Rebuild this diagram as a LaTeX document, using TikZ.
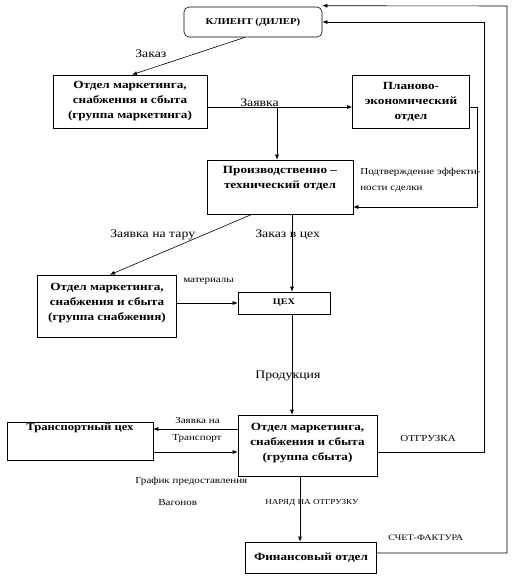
\documentclass[tikz,border=0pt]{standalone}
\usepackage{fontspec}
\setmainfont{Liberation Serif}[FakeStretch=1.2]
\usetikzlibrary{arrows.meta}
\begin{document}
\begin{tikzpicture}
  [x=1pt,y=-1pt,line width=.6pt,
   >={Latex[length=5pt,width=4pt]},
   box/.style={draw,align=center,inner sep=1pt,font=\fontsize{11}{15}\selectfont\bfseries},
   lbl/.style={anchor=west,inner sep=0pt,font=\fontsize{11.5}{13}\selectfont},
   sml/.style={anchor=west,inner sep=0pt,font=\fontsize{9.2}{10}\selectfont}]
  \useasboundingbox (0,0) rectangle (518,577);

  \node[box,rounded corners=5pt,minimum width=138pt,minimum height=30pt,font=\fontsize{9}{10}\selectfont\bfseries] (client) at (253,22) {КЛИЕНТ (ДИЛЕР)};
  \node[box,minimum width=154pt,minimum height=53pt] (mkt)    at (130,101.5) {Отдел маркетинга,\\снабжения и сбыта\\(группа маркетинга)};
  \node[box,minimum width=117pt,minimum height=53pt] (plan)   at (411,101.5) {Планово-\\экономический\\отдел};
  \node[box,minimum width=146pt,minimum height=54pt] (prod)   at (280,187)   {Производственно –\\технический отдел\\[5pt]};
  \node[box,minimum width=139pt,minimum height=62pt] (supply) at (107,306)   {Отдел маркетинга,\\снабжения и сбыта\\(группа снабжения)\\[-6pt]};
  \node[box,minimum width=92pt,minimum height=22pt,font=\fontsize{8.5}{10}\selectfont\bfseries] (shop) at (284,303) {ЦЕХ};
  \node[box,minimum width=139pt,minimum height=61pt] (sales)  at (307.5,445.5) {Отдел маркетинга,\\снабжения и сбыта\\(группа сбыта)\\[-8pt]};
  \node[box,minimum width=146pt,minimum height=37pt,font=\fontsize{10.5}{15}\selectfont\bfseries] (trans) at (80,441.5) {Транспортный цех\\[14pt]};
  \node[box,minimum width=131pt,minimum height=31pt] (fin)    at (311,557.5) {Финансовый отдел};

  \coordinate (split) at (277,107);
  \coordinate (pr1) at (477,107);
  \coordinate (pr2) at (477,207);
  \coordinate (ot1) at (484,452);
  \coordinate (ot2) at (484,22);
  \coordinate (sf1) at (507,553);
  \coordinate (sf2) at (507,6);

  \node[lbl] (lzakaz)  at (135,54)  {Заказ};
  \node[lbl] (lzayav)  at (240,103) {Заявка};
  \node[sml] (lpodtv)  at (360,172) {Подтверждение эффекти-};
  \node[sml] (lnosti)  at (360,189) {ности сделки};
  \node[lbl] (ltara)   at (110,235) {Заявка на тару};
  \node[lbl] (lvceh)   at (255,235) {Заказ в цех};
  \node[sml] (lmater)  at (183,281) {материалы};
  \node[lbl] (lprod)   at (255,376) {Продукция};
  \node[sml] (ltrz1)   at (175,420) {Заявка на};
  \node[sml] (ltrz2)   at (172,438) {Транспорт};
  \node[sml] (lotgr)   at (400,438) {ОТГРУЗКА};
  \node[sml] (lgraf)   at (135,481) {График предоставления};
  \node[sml] (lvag)    at (158,503) {Вагонов};
  \node[sml,font=\fontsize{7.6}{9}\selectfont] (lnaryad) at (265,503) {НАРЯД НА ОТГРУЗКУ};
  \node[sml,font=\fontsize{8.4}{9}\selectfont] (lschet)  at (388,538) {СЧЕТ-ФАКТУРА};

  \draw[->] ([xshift=-8pt]client.south) -- ([xshift=2pt]mkt.north);
  \draw[->] ([yshift=-5.5pt]mkt.east) -- ([yshift=-5.5pt]plan.west);
  \draw[->] (split) -- (split |- prod.north);
  \draw[->] ([yshift=-5.5pt]plan.east) -- (pr1) -- (pr2) -- (pr2 -| prod.east);
  \draw[->] ([xshift=-28pt]prod.south) -- ([xshift=3pt]supply.north);
  \draw[->] ([xshift=12pt]prod.south) -- ([xshift=8pt]shop.north);
  \draw[->] ([yshift=3pt]supply.east) -- (shop.west);
  \draw[->] ([xshift=8pt]shop.south) -- ([xshift=-15.5pt]sales.north);
  \draw[->] ([yshift=16.5pt]sales.west) -- ([yshift=12.5pt]trans.east);
  \draw[->] ([yshift=-10.5pt]trans.east) -- ([yshift=-6.5pt]sales.west);
  \draw[->] ([yshift=-6.5pt]sales.east) -- (ot1) -- (ot2) -- (client.east);
  \draw[->] ([xshift=-7.5pt]sales.south) -- ([xshift=-11pt]fin.north);
  \draw[->] ([yshift=4.5pt]fin.east) -- (sf1) -- (sf2) -- ([yshift=1pt]client.north east);

\end{tikzpicture}
\end{document}
